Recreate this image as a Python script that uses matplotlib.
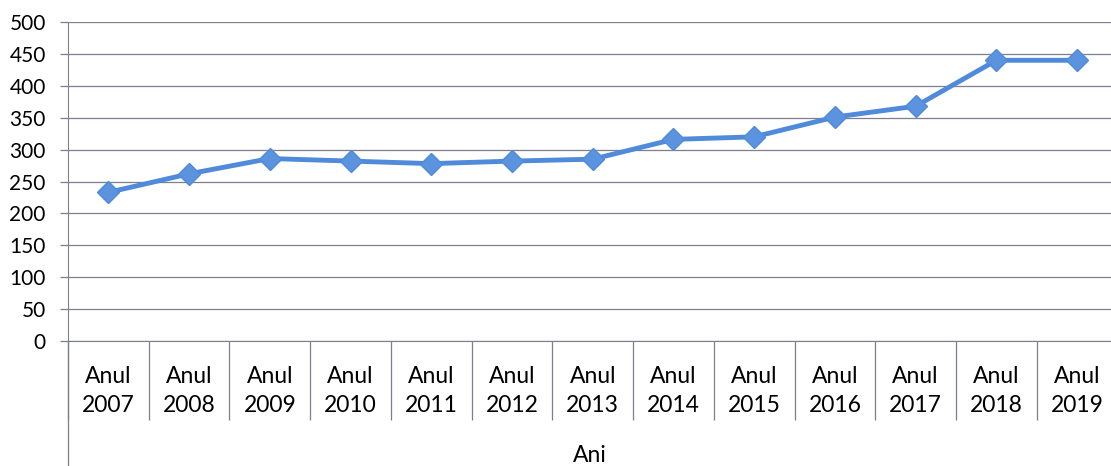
import matplotlib.pyplot as plt
from matplotlib.lines import Line2D

plt.rcParams['font.family'] = ['Lato', 'DejaVu Sans']

years = ['2007', '2008', '2009', '2010', '2011', '2012', '2013',
         '2014', '2015', '2016', '2017', '2018', '2019']
values = [233, 262, 286, 282, 278, 282, 285, 316, 320, 351, 368, 440, 440]
labels = ['Anul\n' + y for y in years]

W, H = 1111, 466
fig = plt.figure(figsize=(W / 100, H / 100), dpi=100)
ax = fig.add_axes([68 / W, 1 - 341 / H, 1 - 68 / W, (341 - 22) / H])

x = list(range(len(years)))
ax.plot(x, values, color='#4F8ADB', lw=3.5, marker='D', markersize=11,
        markerfacecolor='#5B93DE', markeredgecolor='#4F8ADB', zorder=3)

ax.set_ylim(0, 500)
ax.set_yticks(range(0, 501, 50))
ax.set_xlim(-0.5, 12.42)
ax.yaxis.grid(True, color='#7d7f8c', lw=0.9)
ax.set_axisbelow(True)

for s in ['top', 'right']:
    ax.spines[s].set_visible(False)
ax.spines['left'].set_color('#7d7f8c')
ax.spines['bottom'].set_color('#7d7f8c')

ax.set_xticks(x)
ax.set_xticklabels(labels, fontsize=16.5, linespacing=1.45)
ax.tick_params(axis='x', which='major', length=0, pad=18)
ax.set_xticks([i + 0.5 for i in range(len(years) - 1)] + [-0.5], minor=True)
ax.tick_params(axis='x', which='minor', length=57, width=0.9, color='#7d7f8c')
ax.tick_params(axis='y', labelsize=15, length=6, width=0.9, color='#7d7f8c', pad=10)

# left axis line continues down to the bottom of the picture
fig.add_artist(Line2D([68 / W, 68 / W], [0, 1 - 341 / H], color='#7d7f8c', lw=0.9))

fig.text(590 / W, 1 - 455 / H, 'Ani', fontsize=16.5, ha='center', va='center')

fig.savefig('out.png', dpi=100)
